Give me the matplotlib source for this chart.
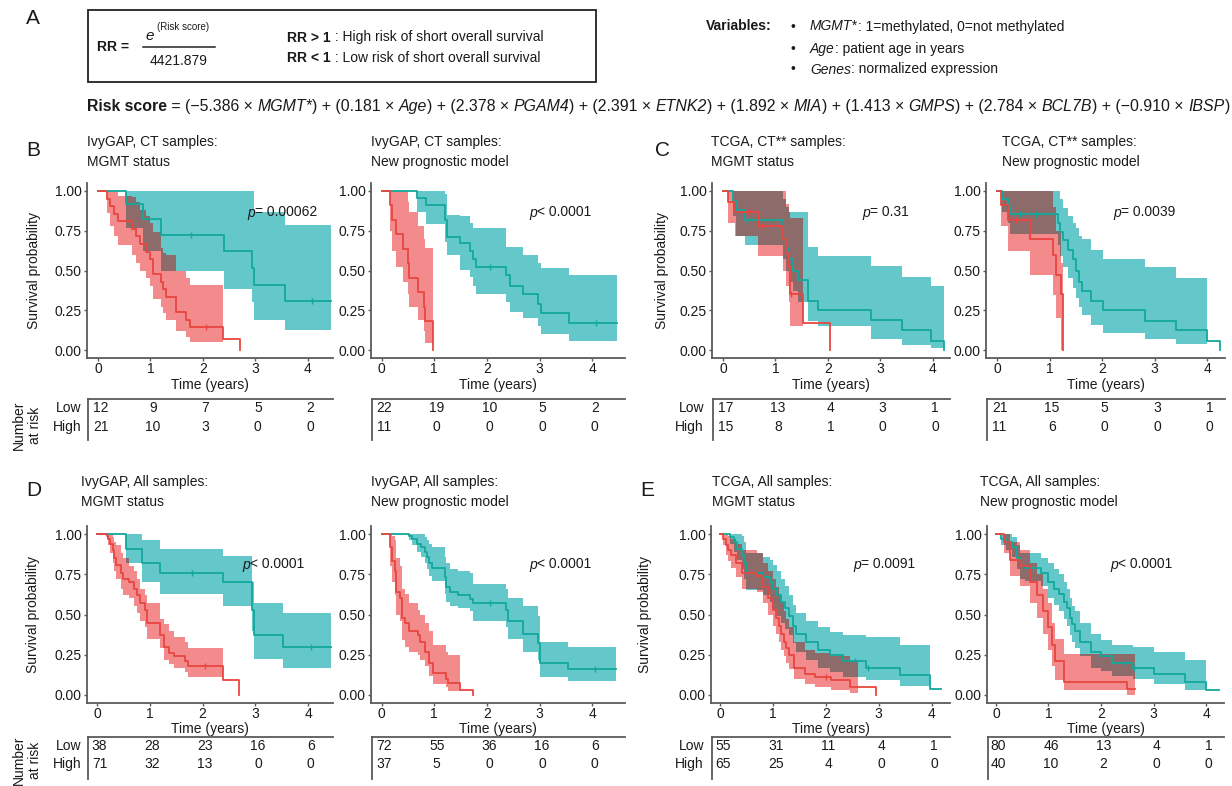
import numpy as np
import matplotlib
matplotlib.use('Agg')
import matplotlib.pyplot as plt
from matplotlib.lines import Line2D
from matplotlib.patches import Rectangle
import matplotlib.transforms as mtrans

plt.rcParams['font.family'] = ['Liberation Sans', 'DejaVu Sans']
nan = np.nan

# ------------------------------------------------------------------ data
time_ticks = [0, 1, 2, 3, 4]
surv_ticks = [0.0, 0.25, 0.5, 0.75, 1.0]
surv_tick_labels = ['0.00', '0.25', '0.50', '0.75', '1.00']
risk_times = [0, 1, 2, 3, 4]

# B left: IvyGAP CT, MGMT status
b1_low_t = [0, .54, .86, 1.20, 2.41, 2.93, 2.98, 3.56]
b1_low_s = [1, .917, .825, .725, .62, .515, .41, .31]
b1_low_lo = [1, .765, .62, .50, .385, .30, .19, .125]
b1_low_hi = [1, 1, 1, 1, 1, 1, .87, .785]
b1_low_end, b1_low_bend, b1_low_cens = 4.45, 4.45, [1.78, 4.08]
b1_high_t = [0, .17, .22, .30, .38, .65, .72, .80, .92, 1.00, 1.05, 1.20, 1.24, 1.30, 1.49, 1.68, 1.75, 2.38, 2.70]
b1_high_s = [1, .952, .905, .857, .81, .762, .714, .667, .619, .571, .476, .428, .381, .333, .238, .19, .143, .071, 0]
b1_high_lo = [1, .86, .78, .72, .66, .60, .55, .50, .45, .40, .32, .27, .23, .19, .12, .08, .05, nan, nan]
b1_high_hi = [1, 1, 1, 1, .97, .96, .93, .88, .84, .80, .74, .64, .61, .60, .50, .45, .41, nan, nan]
b1_high_end, b1_high_bend, b1_high_cens = 2.70, 2.38, [2.05]
b1_risk_low = [12, 9, 7, 5, 2]
b1_risk_high = [21, 10, 3, 0, 0]

# B right: IvyGAP CT, new model
b2_low_t = [0, .68, .85, 1.20, 1.25, 1.49, 1.68, 1.74, 1.80, 2.37, 2.44, 2.69, 2.97, 3.02, 3.56]
b2_low_s = [1, .955, .91, .82, .71, .67, .62, .57, .52, .47, .40, .35, .29, .23, .17]
b2_low_lo = [1, .87, .79, .68, .60, .505, .46, .40, .35, .30, .24, .20, .15, .10, .06]
b2_low_hi = [1, 1, 1, .98, .85, .84, .80, .77, .77, .65, .65, .60, .55, .515, .47]
b2_low_end, b2_low_bend, b2_low_cens = 4.46, 4.46, [2.05, 4.07]
b2_high_t = [0, .17, .20, .28, .40, .50, .53, .70, .80, .83, .97]
b2_high_s = [1, .909, .818, .727, .636, .545, .455, .364, .273, .182, 0]
b2_high_lo = [1, .75, .62, .52, .43, .35, .27, .19, .12, .045, nan]
b2_high_hi = [1, 1, 1, 1, 1, .93, .87, .78, .70, .64, nan]
b2_high_end, b2_high_bend, b2_high_cens = .97, .97, []
b2_risk_low = [22, 19, 10, 5, 2]
b2_risk_high = [11, 0, 0, 0, 0]

# C left: TCGA CT, MGMT status
c1_low_t = [0, .19, .24, .41, 1.14, 1.21, 1.26, 1.33, 1.43, 1.62, 1.81, 2.83, 3.42, 3.97, 4.22]
c1_low_s = [1, .94, .88, .82, .70, .64, .57, .50, .44, .31, .25, .19, .125, .06, 0]
c1_low_lo = [1, .84, .72, .66, .57, .50, .43, .37, .30, .18, .15, .07, .03, .01, nan]
c1_low_hi = [1, 1, 1, 1, .95, .90, .87, .87, .87, .65, .59, .53, .46, .40, nan]
c1_low_end, c1_low_bend, c1_low_cens = 4.22, 4.22, [.45]
c1_high_t = [0, .10, .22, .67, 1.14, 1.20, 1.25, 1.27, 1.52, 2.05]
c1_high_s = [1, .93, .87, .78, .70, .61, .52, .35, .17, 0]
c1_high_lo = [1, .80, .72, .59, .50, .40, .30, .15, nan, nan]
c1_high_hi = [1, 1, 1, 1, 1, .92, .87, .83, nan, nan]
c1_high_end, c1_high_bend, c1_high_cens = 2.05, 1.52, [.48, .75, 1.29]
c1_risk_low = [17, 13, 4, 3, 1]
c1_risk_high = [15, 8, 1, 0, 0]

# C right: TCGA CT, new model
c2_low_t = [0, .10, .20, .24, 1.16, 1.19, 1.25, 1.35, 1.45, 1.50, 1.57, 1.62, 1.79, 2.02, 2.81, 3.41, 4.00, 4.25]
c2_low_s = [1, .95, .905, .857, .80, .74, .69, .63, .57, .50, .43, .37, .31, .25, .185, .125, .06, 0]
c2_low_lo = [1, .87, .80, .73, .66, .59, .52, .45, .39, .33, .27, .22, .16, .11, .07, .04, nan, nan]
c2_low_hi = [1, 1, 1, 1, 1, .95, .89, .84, .80, .77, .72, .70, .63, .575, .52, .45, nan, nan]
c2_low_end, c2_low_bend, c2_low_cens = 4.25, 4.00, [.43, .74]
c2_high_t = [0, .08, .20, .62, 1.06, 1.13, 1.22, 1.25]
c2_high_s = [1, .91, .82, .70, .60, .47, .35, 0]
c2_high_lo = [1, .78, .62, .47, .345, .20, 0.0, nan]
c2_high_hi = [1, 1, 1, 1, .90, .75, .55, nan]
c2_high_end, c2_high_bend, c2_high_cens = 1.25, 1.25, [.36, .49]
c2_risk_low = [21, 15, 5, 3, 1]
c2_risk_high = [11, 6, 0, 0, 0]

# D left: IvyGAP all, MGMT status
d1_low_t = [0, .55, .85, 1.20, 2.38, 2.93, 2.97, 3.53]
d1_low_s = [1, .91, .82, .76, .70, .53, .37, .30]
d1_low_lo = [1, .82, .70, .63, .55, .40, .225, .167]
d1_low_hi = [1, 1, .96, .91, .865, .70, .57, .51]
d1_low_end, d1_low_bend, d1_low_cens = 4.44, 4.44, [1.80, 4.05]
d1_high_t = [0, .18, .20, .25, .30, .33, .35, .45, .50, .60, .70, .75, .82, .90, .95, 1.20, 1.26, 1.36, 1.45, 1.67, 1.73, 2.38, 2.68]
d1_high_s = [1, .99, .97, .94, .90, .85, .81, .76, .72, .70, .66, .62, .57, .53, .45, .375, .30, .26, .24, .21, .18, .09, 0]
d1_high_lo = [1, .97, .93, .88, .82, .77, .72, .66, .62, .60, .55, .51, .46, .42, .35, .29, .22, .19, .17, .14, .11, nan, nan]
d1_high_hi = [1, 1, 1, 1, .98, .95, .93, .88, .85, .80, .77, .72, .66, .62, .57, .47, .44, .40, .36, .33, .29, nan, nan]
d1_high_end, d1_high_bend, d1_high_cens = 2.68, 2.38, [2.05]
d1_risk_low = [38, 28, 23, 16, 6]
d1_risk_high = [71, 32, 13, 0, 0]

# D right: IvyGAP all, new model
d2_low_t = [0, .52, .57, .67, .75, .82, .86, .91, .95, 1.20, 1.23, 1.29, 1.45, 1.67, 1.73, 2.37, 2.40, 2.69, 2.97, 3.01, 3.53]
d2_low_s = [1, .986, .97, .94, .92, .89, .86, .82, .79, .73, .67, .64, .62, .595, .57, .53, .46, .38, .32, .20, .16]
d2_low_lo = [1, .96, .93, .89, .86, .82, .78, .74, .71, .63, .58, .55, .54, .52, .46, .42, .35, .27, .22, .11, .087]
d2_low_hi = [1, 1, 1, 1, 1, .98, .96, .94, .92, .86, .82, .78, .77, .76, .69, .66, .60, .55, .49, .33, .295]
d2_low_end, d2_low_bend, d2_low_cens = 4.45, 4.45, [2.05, 4.06]
d2_high_t = [0, .16, .19, .25, .28, .35, .38, .44, .52, .69, .73, .82, .91, .97, 1.23, 1.26, 1.48, 1.73]
d2_high_s = [1, .92, .835, .77, .64, .60, .48, .45, .40, .37, .33, .27, .20, .135, .10, .075, .03, 0]
d2_high_lo = [1, .80, .70, .62, .50, .46, .34, .30, .27, .25, .22, .18, .12, .07, .05, .025, nan, nan]
d2_high_hi = [1, 1, .99, .965, .85, .80, .66, .63, .57, .53, .50, .45, .40, .31, .27, .25, nan, nan]
d2_high_end, d2_high_bend, d2_high_cens = 1.73, 1.48, []
d2_risk_low = [72, 55, 36, 16, 6]
d2_risk_high = [37, 5, 0, 0, 0]

# E left: TCGA all, MGMT status
e1_low_t = [0, .18, .25, .32, .40, .45, .49, .80, .93, 1.00, 1.08, 1.15, 1.22, 1.30, 1.38, 1.44, 1.63, 1.85, 2.07, 2.32, 2.75, 3.40, 3.97]
e1_low_s = [1, .98, .95, .91, .87, .82, .76, .73, .70, .66, .62, .58, .54, .49, .43, .38, .33, .28, .25, .21, .17, .125, .04]
e1_low_lo = [1, .94, .89, .84, .78, .72, .65, .62, .58, .53, .49, .45, .41, .37, .32, .27, .22, .17, .14, .11, .09, .056, nan]
e1_low_hi = [1, 1, 1, 1, .99, .95, .88, .86, .84, .81, .77, .72, .68, .62, .56, .51, .46, .42, .39, .37, .36, .31, nan]
e1_low_end, e1_low_bend, e1_low_cens = 4.17, 3.97, [2.55, 2.80]
e1_high_t = [0, .05, .10, .15, .20, .30, .40, .70, .80, .90, 1.00, 1.05, 1.10, 1.15, 1.20, 1.25, 1.30, 1.40, 1.60, 1.80, 2.10, 2.45, 2.95]
e1_high_s = [1, .97, .93, .90, .87, .82, .76, .74, .67, .60, .53, .48, .43, .38, .33, .29, .25, .17, .13, .11, .09, .05, 0]
e1_high_lo = [1, .93, .87, .83, .79, .73, .66, .64, .57, .50, .43, .38, .33, .28, .24, .20, .16, .10, .07, .05, .03, .01, nan]
e1_high_hi = [1, 1, 1, .99, .97, .94, .90, .88, .82, .77, .72, .67, .62, .57, .52, .47, .42, .33, .28, .26, .24, .21, nan]
e1_high_end, e1_high_bend, e1_high_cens = 2.95, 2.60, [2.00]
e1_risk_low = [55, 31, 11, 4, 1]
e1_risk_high = [65, 25, 4, 0, 0]

# E right: TCGA all, new model
e2_low_t = [0, .10, .20, .30, .40, .45, .55, .85, 1.00, 1.10, 1.20, 1.30, 1.35, 1.40, 1.45, 1.50, 1.60, 1.80, 2.00, 2.20, 2.60, 3.00, 3.60, 4.00]
e2_low_s = [1, .97, .95, .92, .85, .80, .79, .76, .70, .66, .63, .58, .54, .48, .44, .40, .33, .27, .24, .20, .17, .13, .08, .03]
e2_low_lo = [1, .93, .90, .86, .78, .72, .71, .68, .60, .56, .52, .47, .43, .37, .33, .29, .24, .17, .15, .12, .10, .07, .03, nan]
e2_low_hi = [1, 1, 1, .98, .93, .88, .88, .85, .82, .78, .75, .70, .66, .60, .55, .52, .45, .38, .34, .31, .30, .27, .22, nan]
e2_low_end, e2_low_bend, e2_low_cens = 4.25, 4.00, [.70, 2.45, 2.62]
e2_high_t = [0, .15, .27, .46, .65, .78, .90, 1.00, 1.06, 1.13, 1.29, 2.49]
e2_high_s = [1, .95, .84, .80, .70, .62, .52, .42, .31, .21, .08, .04]
e2_high_lo = [1, .88, .74, .68, .57, .48, .38, .28, .18, .09, .03, .0]
e2_high_hi = [1, 1, .95, .90, .82, .75, .66, .57, .45, .35, .257, .257]
e2_high_end, e2_high_bend, e2_high_cens = 2.65, 2.65, []
e2_risk_low = [80, 46, 13, 4, 1]
e2_risk_high = [40, 10, 2, 0, 0]

p_texts = {'b1': '= 0.00062', 'b2': '< 0.0001', 'c1': '= 0.31', 'c2': '= 0.0039',
           'd1': '< 0.0001', 'd2': '< 0.0001', 'e1': '= 0.0091', 'e2': '< 0.0001'}
titles = {'b1': ('IvyGAP, CT samples:', 'MGMT status'),
          'b2': ('IvyGAP, CT samples:', 'New prognostic model'),
          'c1': ('TCGA, CT** samples:', 'MGMT status'),
          'c2': ('TCGA, CT** samples:', 'New prognostic model'),
          'd1': ('IvyGAP, All samples:', 'MGMT status'),
          'd2': ('IvyGAP, All samples:', 'New prognostic model'),
          'e1': ('TCGA, All samples:', 'MGMT status'),
          'e2': ('TCGA, All samples:', 'New prognostic model')}

# ------------------------------------------------------------------ style
W, H = 1232, 786
TEAL_LINE, TEAL_FILL = '#12A89B', '#64C7CA'
RED_LINE, RED_FILL = '#E9463F', '#F38A8C'
OVER_FILL = '#8D6B6B'
AX_COL = '#5a5a5a'
TXT = '#1a1a1a'
FS = 10

fig = plt.figure(figsize=(W / 100, H / 100), dpi=100)
renderer = fig.canvas.get_renderer()


def fx(px):
    return px / W


def fy(py):
    return 1 - py / H


def ftext(x, y, s, **kw):
    kw.setdefault('color', TXT)
    return fig.text(fx(x), fy(y), s, **kw)


def text_width(s, size, weight='normal', style='normal'):
    t = fig.text(0, 0, '|' + s + '|', fontsize=size, fontweight=weight, fontstyle=style)
    w1 = t.get_window_extent(renderer).width
    t.set_text('||')
    w2 = t.get_window_extent(renderer).width
    t.remove()
    return w1 - w2


def rich(x, y, segs, size, draw=True):
    cx = x
    for s, wt, st in segs:
        if draw:
            ftext(cx, y, s, fontsize=size, fontweight=wt, fontstyle=st,
                  ha='left', va='center_baseline')
        cx += text_width(s, size, wt, st)
    return cx


def step_eval(t, v, x):
    t = np.asarray(t, float)
    v = np.asarray(v, float)
    idx = np.clip(np.searchsorted(t, x, side='right') - 1, 0, len(t) - 1)
    return v[idx]


def band_edges(c):
    t = np.asarray(c['t'], float)
    keep = t < c['bend']
    edges = np.append(t[keep], c['bend'])
    return edges, np.asarray(c['lo'], float)[keep], np.asarray(c['hi'], float)[keep]


def fill_steps(ax, edges, lo, hi, color, z):
    valid = ~(np.isnan(lo) | np.isnan(hi))
    valid[valid] = hi[valid] > lo[valid]
    n = len(lo)
    i = 0
    while i < n:
        if not valid[i]:
            i += 1
            continue
        j = i
        while j + 1 < n and valid[j + 1]:
            j += 1
        xs = edges[i:j + 2]
        l = np.append(lo[i:j + 1], lo[j])
        h = np.append(hi[i:j + 1], hi[j])
        ax.fill_between(xs, l, h, step='post', color=color, lw=0, zorder=z)
        i = j + 1


def curve(prefix, grp):
    g = globals()
    return dict(t=g[f'{prefix}_{grp}_t'], s=g[f'{prefix}_{grp}_s'], lo=g[f'{prefix}_{grp}_lo'],
                hi=g[f'{prefix}_{grp}_hi'], end=g[f'{prefix}_{grp}_end'],
                bend=g[f'{prefix}_{grp}_bend'], cens=g[f'{prefix}_{grp}_cens'])


# layout: key, left, right, top, bottom, xlim, title_x, p_x, first-of-pair
layout = [
    ('b1', 87, 333, 183, 358, (-0.21, 4.48), 87, 247, True),
    ('b2', 371, 625, 183, 358, (-0.20, 4.62), 371, 529, False),
    ('c1', 712, 950, 183, 358, (-0.21, 4.33), 711, 862, True),
    ('c2', 986, 1225, 183, 358, (-0.21, 4.34), 1002, 1113, False),
    ('d1', 87, 333, 526, 703, (-0.19, 4.47), 81, 242, True),
    ('d2', 371, 625, 526, 703, (-0.20, 4.62), 371, 529, False),
    ('e1', 711, 950, 526, 703, (-0.18, 4.35), 712, 853, True),
    ('e2', 987, 1224, 526, 703, (-0.17, 4.34), 980, 1110, False),
]
row_info = {183: dict(t1=142, t2=162, p=211, xl=385, tab=399, low=408, high=427, tabend=440),
            526: dict(t1=482, t2=502, p=563, xl=729, tab=736.5, low=746, high=764, tabend=779)}
ylabel_x = {'b1': 34, 'c1': 662, 'd1': 33, 'e1': 645}
lowhigh_x = {'b1': 81, 'c1': 704, 'd1': 81, 'e1': 704}

for key, L, R, T, B, xlim, tx, px, first in layout:
    ri = row_info[T]
    ax = fig.add_axes([fx(L), fy(B), (R - L) / W, (B - T) / H])
    ax.set_xlim(*xlim)
    ax.set_ylim(-0.05, 1.05)
    for sp in ('top', 'right'):
        ax.spines[sp].set_visible(False)
    for sp in ('left', 'bottom'):
        ax.spines[sp].set_color(AX_COL)
        ax.spines[sp].set_linewidth(1.3)
    ax.set_xticks(time_ticks)
    ax.set_xticklabels([str(v) for v in time_ticks])
    ax.set_yticks(surv_ticks)
    ax.set_yticklabels(surv_tick_labels)
    ax.tick_params(length=2.5, width=1, color=AX_COL, labelsize=FS, pad=1.5, labelcolor=TXT)
    ax.tick_params(axis='x', pad=0.5)

    low = curve(key, 'low')
    high = curve(key, 'high')
    e1, lo1, hi1 = band_edges(low)
    e2, lo2, hi2 = band_edges(high)
    fill_steps(ax, e1, lo1, hi1, TEAL_FILL, 1)
    fill_steps(ax, e2, lo2, hi2, RED_FILL, 2)
    # overlap of the two confidence bands
    cut = min(low['bend'], high['bend'])
    ee = np.unique(np.concatenate([e1, e2]))
    ee = ee[ee <= cut]
    mids = ee[:-1]
    olo = np.maximum(step_eval(e1[:-1], lo1, mids), step_eval(e2[:-1], lo2, mids))
    ohi = np.minimum(step_eval(e1[:-1], hi1, mids), step_eval(e2[:-1], hi2, mids))
    fill_steps(ax, ee, olo, ohi, OVER_FILL, 3)

    for c, col in ((low, TEAL_LINE), (high, RED_LINE)):
        xs = list(c['t']) + [c['end']]
        ys = list(c['s']) + [c['s'][-1]]
        ax.step(xs, ys, where='post', color=col, lw=1.3, zorder=5)
        if c['cens']:
            cx = np.asarray(c['cens'])
            ax.plot(cx, step_eval(c['t'], c['s'], cx), ls='none', marker='|', ms=4,
                    mew=1.0, color=col, zorder=6)

    # titles, p-value, axis label
    t1, t2 = titles[key]
    ftext(tx, ri['t1'], t1, fontsize=FS, ha='left', va='center')
    ftext(tx, ri['t2'], t2, fontsize=FS, ha='left', va='center')
    rich(px, ri['p'], [('p', 'normal', 'italic'), (p_texts[key], 'normal', 'normal')], FS)
    ftext((L + R) / 2, ri['xl'], 'Time (years)', fontsize=FS, ha='center', va='center')
    if first:
        ftext(ylabel_x[key], (T + B) / 2, 'Survival probability', fontsize=FS,
              rotation=90, ha='center', va='center')
        ftext(lowhigh_x[key], ri['low'], 'Low', fontsize=FS, ha='right', va='center')
        ftext(lowhigh_x[key], ri['high'], 'High', fontsize=FS, ha='right', va='center')

    # number-at-risk table
    tl = L + 1
    fig.add_artist(Line2D([fx(tl), fx(R)], [fy(ri['tab']), fy(ri['tab'])],
                          transform=fig.transFigure, color=AX_COL, lw=1.3))
    fig.add_artist(Line2D([fx(tl), fx(tl)], [fy(ri['tab']), fy(ri['tabend'])],
                          transform=fig.transFigure, color=AX_COL, lw=1.3))
    bt = mtrans.blended_transform_factory(ax.transData, fig.transFigure)
    bt = mtrans.offset_copy(bt, fig=fig, x=2.5, y=0, units='dots')
    rl = globals()[f'{key}_risk_low']
    rh = globals()[f'{key}_risk_high']
    for xv, a, b in zip(risk_times, rl, rh):
        fig.text(xv, fy(ri['low']), str(a), transform=bt, fontsize=FS, ha='center',
                 va='center', color=TXT)
        fig.text(xv, fy(ri['high']), str(b), transform=bt, fontsize=FS, ha='center',
                 va='center', color=TXT)

# "Number at risk" labels
for yc in (425, 760):
    ftext(27, yc, 'Number\nat risk', fontsize=FS, rotation=90, ha='center', va='center',
          multialignment='center', linespacing=1.25)

# panel letters
for letter, x, y in (('A', 33, 19), ('B', 33, 150), ('C', 662, 150), ('D', 34, 490), ('E', 647, 490)):
    ftext(x, y, letter, fontsize=15, ha='center', va='center')

# ------------------------------------------------------------------ header (A)
fig.add_artist(Rectangle((fx(88), fy(82)), (596 - 88) / W, (82 - 10) / H, transform=fig.transFigure,
                         fill=False, lw=1.3, ec='#222222'))
ftext(97, 47, 'RR =', fontsize=FS, fontweight='bold', ha='left', va='center')
ftext(150, 36, 'e', fontsize=11, fontstyle='italic', ha='center', va='center')
ftext(157, 27, '(Risk score)', fontsize=7, ha='left', va='center')
fig.add_artist(Line2D([fx(143), fx(215)], [fy(47), fy(47)], transform=fig.transFigure,
                      color='#222222', lw=1.1))
ftext(179, 61, '4421.879', fontsize=FS, ha='center', va='center')
rich(287, 36, [('RR > 1', 'bold', 'normal'), (' : High risk of short overall survival', 'normal', 'normal')], FS)
rich(287, 57, [('RR < 1', 'bold', 'normal'), (' : Low risk of short overall survival', 'normal', 'normal')], FS)

ftext(706, 25, 'Variables:', fontsize=FS, fontweight='bold', ha='left', va='center_baseline')
var_lines = [[('MGMT*', 'normal', 'italic'), (': 1=methylated, 0=not methylated', 'normal', 'normal')],
             [('Age', 'normal', 'italic'), (': patient age in years', 'normal', 'normal')],
             [('Genes', 'normal', 'italic'), (': normalized expression', 'normal', 'normal')]]
for yv, segs in zip((25, 47, 68), var_lines):
    ftext(793, yv, '•', fontsize=FS, ha='center', va='center_baseline')
    rich(810, yv, segs, FS)

coefs = ['−5.386', '0.181', '2.378', '2.391', '1.892', '1.413', '2.784', '−0.910']
terms = ['MGMT*', 'Age', 'PGAM4', 'ETNK2', 'MIA', 'GMPS', 'BCL7B', 'IBSP']
segs = [('Risk score', 'bold', 'normal')]
for i, (c, tname) in enumerate(zip(coefs, terms)):
    pre = ' = (' if i == 0 else ') + ('
    segs.append((pre + c + ' × ', 'normal', 'normal'))
    segs.append((tname, 'normal', 'italic'))
segs.append((')', 'normal', 'normal'))
w0 = rich(0, 0, segs, FS, draw=False)
fs_formula = FS * (1228 - 87) / w0
rich(87, 105, segs, fs_formula)

fig.savefig('out.png', dpi=100)
